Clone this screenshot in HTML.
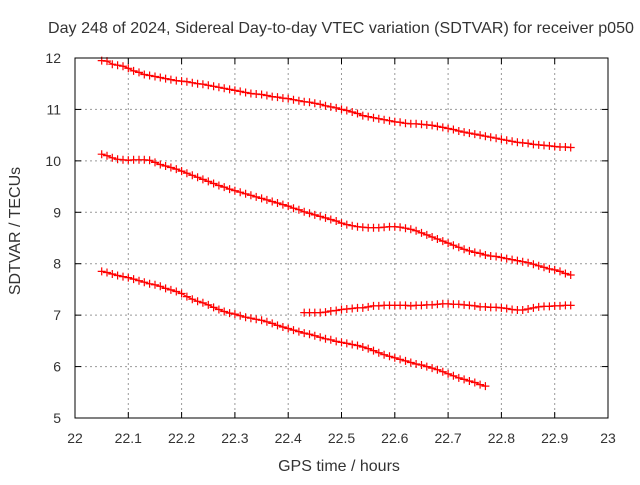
<!DOCTYPE html>
<html><head><meta charset="utf-8"><style>
body{margin:0;background:#fff}
svg text{font-family:"Liberation Sans",sans-serif;fill:#333}
</style></head><body>
<svg id="c" width="640" height="480" xmlns="http://www.w3.org/2000/svg">
<rect width="640" height="480" fill="#fff"/>
<text x="341" y="33" font-size="16" text-anchor="middle" textLength="586" lengthAdjust="spacingAndGlyphs">Day 248 of 2024, Sidereal Day-to-day VTEC variation (SDTVAR) for receiver p050</text>
<text x="339" y="471" font-size="16" text-anchor="middle">GPS time / hours</text>
<text transform="translate(20,231) rotate(-90)" font-size="16" text-anchor="middle">SDTVAR / TECUs</text>
<g id="grid"></g><g id="ticks"></g><g id="series"></g>
<rect x="75" y="58" width="533" height="360" fill="none" stroke="#000" stroke-width="1"/>
</svg>
<script>
const xTicks=[22,22.1,22.2,22.3,22.4,22.5,22.6,22.7,22.8,22.9,23];
const xTickLabels=["22","22.1","22.2","22.3","22.4","22.5","22.6","22.7","22.8","22.9","23"];
const yTicks=[5,6,7,8,9,10,11,12];
const yTickLabels=["5","6","7","8","9","10","11","12"];
const step=0.01;
const startA=22.05;
const seriesA=[11.95,11.94,11.88,11.86,11.84,11.8,11.75,11.72,11.68,11.66,11.64,11.62,11.6,11.58,11.56,11.55,11.54,11.52,11.5,11.49,11.47,11.45,11.43,11.41,11.39,11.37,11.35,11.33,11.31,11.3,11.29,11.27,11.25,11.24,11.22,11.21,11.19,11.17,11.15,11.14,11.12,11.1,11.07,11.05,11.03,11.0,10.98,10.95,10.92,10.88,10.86,10.84,10.82,10.8,10.78,10.76,10.75,10.73,10.72,10.72,10.71,10.7,10.69,10.67,10.65,10.63,10.61,10.58,10.56,10.54,10.52,10.5,10.48,10.46,10.44,10.42,10.4,10.38,10.36,10.35,10.34,10.32,10.31,10.3,10.29,10.28,10.27,10.27,10.26];
const startB=22.05;
const seriesB=[10.13,10.1,10.06,10.03,10.02,10.01,10.02,10.02,10.02,10.01,9.97,9.93,9.9,9.87,9.84,9.8,9.76,9.72,9.68,9.64,9.6,9.56,9.52,9.49,9.45,9.42,9.39,9.36,9.33,9.3,9.27,9.24,9.21,9.18,9.15,9.12,9.08,9.05,9.01,8.98,8.95,8.92,8.89,8.86,8.83,8.79,8.76,8.74,8.72,8.71,8.7,8.7,8.7,8.71,8.72,8.72,8.71,8.69,8.67,8.64,8.6,8.56,8.52,8.48,8.44,8.4,8.36,8.32,8.28,8.25,8.22,8.2,8.17,8.15,8.14,8.12,8.1,8.08,8.06,8.04,8.02,7.99,7.96,7.93,7.9,7.88,7.85,7.81,7.78];
const startC=22.05;
const seriesC=[7.85,7.83,7.8,7.77,7.75,7.73,7.7,7.67,7.64,7.61,7.59,7.56,7.52,7.49,7.46,7.42,7.36,7.31,7.27,7.24,7.2,7.15,7.11,7.07,7.04,7.02,6.99,6.96,6.94,6.92,6.9,6.87,6.84,6.8,6.77,6.74,6.71,6.68,6.65,6.63,6.6,6.57,6.54,6.52,6.49,6.47,6.45,6.43,6.41,6.38,6.35,6.31,6.27,6.23,6.2,6.17,6.14,6.11,6.08,6.05,6.03,6.0,5.97,5.94,5.9,5.86,5.82,5.78,5.75,5.72,5.69,5.65,5.62];
const startD=22.43;
const seriesD=[7.05,7.05,7.05,7.05,7.06,7.08,7.09,7.11,7.12,7.13,7.14,7.14,7.16,7.18,7.18,7.19,7.19,7.19,7.19,7.19,7.18,7.19,7.19,7.2,7.2,7.21,7.22,7.22,7.21,7.21,7.2,7.19,7.18,7.16,7.16,7.15,7.15,7.14,7.13,7.11,7.1,7.1,7.12,7.14,7.16,7.17,7.17,7.18,7.18,7.19,7.19];

const NS="http://www.w3.org/2000/svg";
const L=75,R=608,T=58,B=418;
const X=t=>L+(t-22)/(23-22)*(R-L);
const Y=v=>B-(v-5)/(12-5)*(B-T);
function mk(tag,attrs,parent){const e=document.createElementNS(NS,tag);for(const k in attrs)e.setAttribute(k,attrs[k]);parent.appendChild(e);return e;}
const grid=document.getElementById('grid'),ticks=document.getElementById('ticks'),ser=document.getElementById('series');
xTicks.forEach((t,i)=>{
  const x=X(t);
  if(i>0&&i<xTicks.length-1){const g=mk('line',{x1:x,x2:x,y1:T,y2:B,stroke:'#999','stroke-dasharray':'2,3'},grid);
  
  }
  mk('line',{x1:x,x2:x,y1:B,y2:B-6,stroke:'#000'},ticks);
  mk('line',{x1:x,x2:x,y1:T,y2:T+6,stroke:'#000'},ticks);
  const tx=mk('text',{x:x,y:B+25,'font-size':14,'text-anchor':'middle'},ticks);tx.textContent=xTickLabels[i];
  
  
});
yTicks.forEach((v,i)=>{
  const y=Y(v);
  if(i>0&&i<yTicks.length-1){const g=mk('line',{x1:L,x2:R,y1:y,y2:y,stroke:'#999','stroke-dasharray':'2,3'},grid);
  
  }
  mk('line',{x1:L,x2:L+6,y1:y,y2:y,stroke:'#000'},ticks);
  mk('line',{x1:R,x2:R-6,y1:y,y2:y,stroke:'#000'},ticks);
  const tx=mk('text',{x:L-14,y:y+5,'font-size':14,'text-anchor':'end'},ticks);tx.textContent=yTickLabels[i];
  
  
});
function draw(start,vals,name){
  const g=mk('g',{},ser);
  
  
  let d='';let m='';
  vals.forEach((v,i)=>{const x=X(start+i*step),y=Y(v);d+=(i?'L':'M')+x.toFixed(1)+','+y.toFixed(1);
    m+='M'+(x-4).toFixed(1)+','+y.toFixed(1)+'h8M'+x.toFixed(1)+','+(y-4).toFixed(1)+'v8';});
  mk('path',{d:d,fill:'none',stroke:'#f00','stroke-width':1.2},g);
  mk('path',{d:m,fill:'none',stroke:'#f00','stroke-width':1.2},g);
}
draw(startA,seriesA,'series-a');
draw(startB,seriesB,'series-b');
draw(startC,seriesC,'series-c');
draw(startD,seriesD,'series-d');
</script>
</body></html>
